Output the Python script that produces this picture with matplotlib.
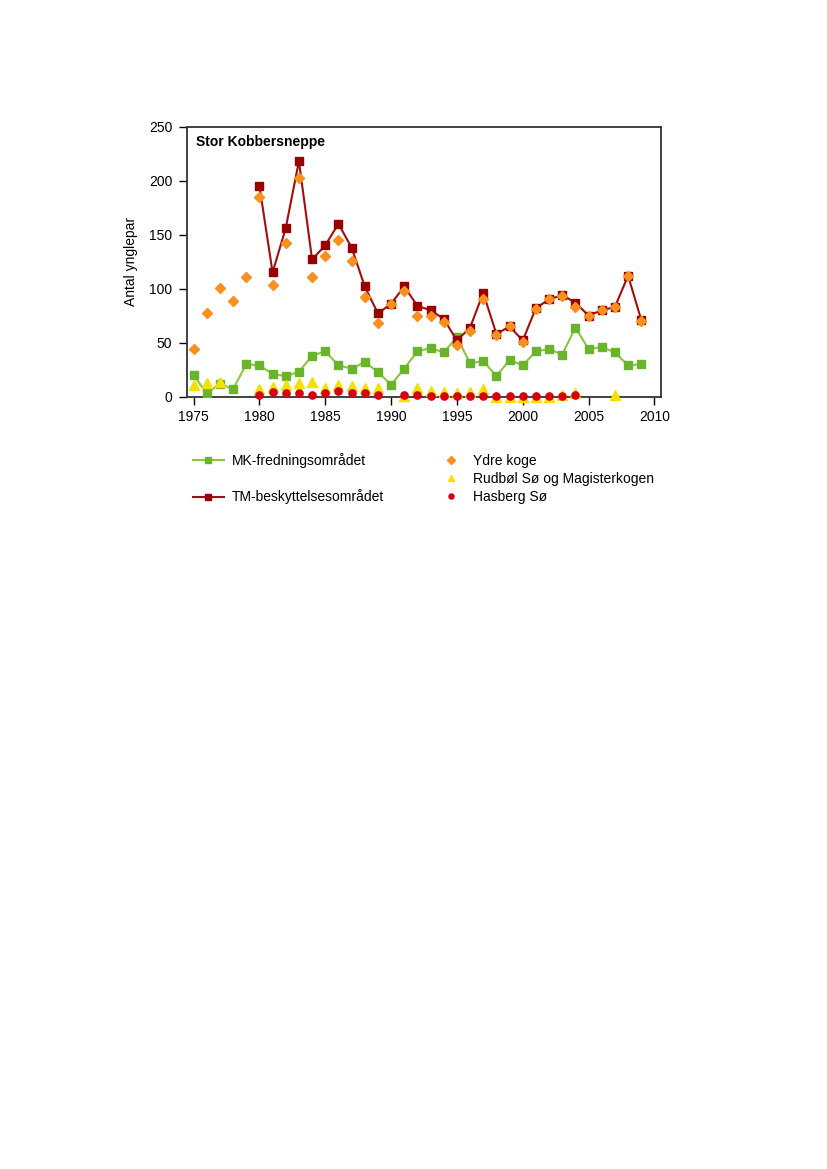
import matplotlib
matplotlib.use("Agg")
import matplotlib.pyplot as plt

plt.rcParams['font.family'] = ['Liberation Sans', 'DejaVu Sans']

# MK-fredningsområdet (green line)
mk_years = list(range(1975, 2010))
mk_vals = [20, 3, 12, 7, 30, 29, 21, 19, 23, 38, 42, 29, 26, 32, 23, 11, 26, 42, 45, 41,
           55, 31, 33, 19, 34, 29, 42, 44, 39, 64, 44, 46, 41, 29, 30]

# TM-beskyttelsesområdet (dark red line)
tm_years = list(range(1980, 2010))
tm_vals = [195, 115, 156, 218, 127, 140, 160, 138, 102, 77, 86, 102, 84, 80, 72, 52, 64, 96,
           58, 65, 52, 82, 90, 94, 87, 75, 80, 83, 112, 71]

# Ydre koge (orange diamonds)
yk_years = list(range(1975, 2010))
yk_vals = [44, 77, 101, 89, 111, 185, 103, 142, 202, 111, 130, 145, 126, 92, 68, 86, 98, 75,
           75, 69, 48, 61, 90, 57, 65, 51, 81, 90, 93, 83, 75, 80, 83, 112, 70]

# Rudbøl Sø og Magisterkogen (yellow triangles)
rs_years = [1975, 1976, 1977, 1980, 1981, 1982, 1983, 1984, 1985, 1986, 1987, 1988, 1989,
            1991, 1992, 1993, 1994, 1995, 1996, 1997, 1998, 1999, 2000, 2001, 2002, 2003,
            2004, 2007]
rs_vals = [11, 13, 14, 7, 9, 11, 13, 14, 8, 11, 10, 8, 8,
           1, 8, 5, 4, 3, 4, 7, 0, 0, 0, 0, 0, 2, 3, 2]

# Hasberg Sø (red circles)
hs_years = [1980, 1981, 1982, 1983, 1984, 1985, 1986, 1987, 1988, 1989, 1991, 1992, 1993,
            1994, 1995, 1996, 1997, 1998, 1999, 2000, 2001, 2002, 2003, 2004]
hs_vals = [2, 4, 3, 3, 2, 3, 5, 3, 3, 1.5, 2, 1.5, 1, 0.5, 0.5, 0.5, 0.5, 1, 0.5, 0.5, 0.5,
           0.5, 1, 1.5]

xticks = [1975, 1980, 1985, 1990, 1995, 2000, 2005, 2010]
yticks = [0, 50, 100, 150, 200, 250]

c_green_line = '#8cc63f'
c_green_mk = '#6ab42d'
c_red_line = '#a50d0d'
c_red_mk = '#990000'
c_orange = '#f7901e'
c_yellow = '#f5e000'
c_hs = '#d7000f'

fig = plt.figure(figsize=(8.27, 11.69), dpi=100)
ax = fig.add_axes([187/827, 1-396.7/1169, (661-187)/827, (396.7-126.5)/1169])

ax.plot(mk_years, mk_vals, '-s', color=c_green_line, mfc=c_green_mk, mec=c_green_mk,
        ms=5.5, lw=1.5, zorder=3, label='MK-fredningsområdet')
ax.plot(tm_years, tm_vals, '-s', color=c_red_line, mfc=c_red_mk, mec=c_red_mk,
        ms=5.5, lw=1.5, zorder=3, label='TM-beskyttelsesområdet')
ax.plot(yk_years, yk_vals, 'D', color=c_orange, ms=5.5, ls='none', zorder=4, label='Ydre koge')
ax.plot(rs_years, rs_vals, '^', color=c_yellow, ms=6.5, ls='none', zorder=4,
        label='Rudbøl Sø og Magisterkogen', clip_on=False)
ax.plot(hs_years, hs_vals, 'o', color=c_hs, ms=5.2, ls='none', zorder=5, label='Hasberg Sø',
        clip_on=False)

ax.set_xlim(1974.5, 2010.5)
ax.set_ylim(0, 250)
ax.set_xticks(xticks)
ax.set_yticks(yticks)
ax.tick_params(direction='out', length=6, width=1, labelsize=10, colors='black')
ax.tick_params(axis='y', pad=4.5)
for s in ax.spines.values():
    s.set_linewidth(1.3)
    s.set_color('#333333')
ax.set_ylabel('Antal ynglepar', fontsize=10, labelpad=8)
ax.text(0.02, 0.97, 'Stor Kobbersneppe', transform=ax.transAxes, fontsize=10,
        fontweight='bold', va='top', ha='left')

h = ax.get_legend_handles_labels()[0]
leg1 = fig.legend(handles=[h[0], h[1]], loc='upper left',
                  bbox_to_anchor=(193/827, 1-453/1169), frameon=False, fontsize=10,
                  handlelength=2.2, handletextpad=0.6, labelspacing=1.55, borderaxespad=0,
                  borderpad=0, markerscale=0.75)
leg2 = fig.legend(handles=[h[2], h[3], h[4]], loc='upper left',
                  bbox_to_anchor=(445/827, 1-454/1169), frameon=False, fontsize=10,
                  handlelength=0.9, handletextpad=1.1, labelspacing=0.27, borderaxespad=0,
                  borderpad=0, markerscale=0.7)

fig.savefig('out.png', dpi=100)
